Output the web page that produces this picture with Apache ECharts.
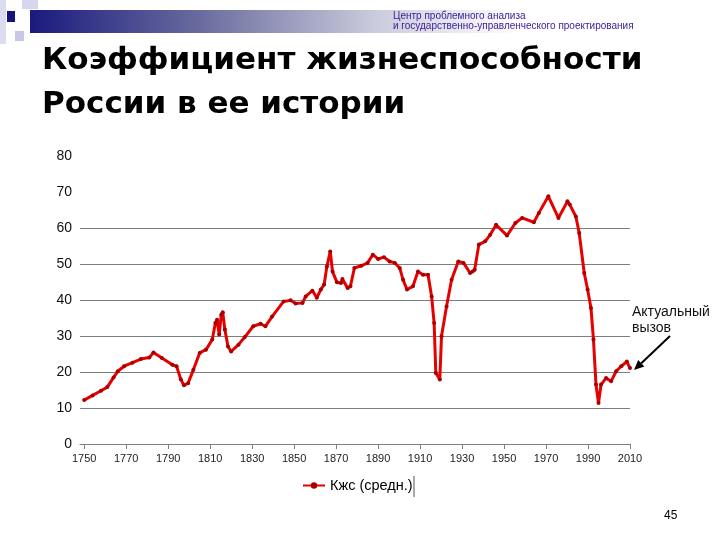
<!DOCTYPE html>
<html>
<head>
<meta charset="utf-8">
<script src="https://cdn.jsdelivr.net/npm/echarts@6/dist/echarts.min.js"></script>
<style>
html,body{margin:0;padding:0;background:#fff;}
#c{width:720px;height:540px;}
</style>
</head>
<body>
<div id="c"></div>
<script>
const years = [1750,1754,1758,1761,1764,1766,1769,1773,1777,1781,1783,1787,1792,1794,1796,1797.5,1799.5,1802,1805,1808,1811,1812.5,1813.3,1814.3,1815.3,1816,1817,1818.5,1820,1823.5,1826.5,1830.5,1834,1836.3,1839.5,1845,1848.3,1850.7,1854,1855.5,1858.7,1860.8,1862.7,1864.3,1865.6,1867.2,1868.3,1870.4,1872.3,1873,1875.5,1876.8,1878.7,1882,1885,1887.5,1890,1892.8,1895.5,1898,1900.3,1901.9,1903.8,1906.6,1909,1911.4,1913.8,1915.5,1916.7,1917.5,1919.4,1920.2,1922.6,1925,1928.2,1930.7,1933.8,1935,1936,1938,1941,1943.4,1946.2,1951.4,1955.4,1958.6,1964.2,1966.6,1971.1,1975.9,1980.2,1981.3,1984.2,1985.8,1988.2,1989.8,1991.4,1992.6,1993.8,1995,1996.2,1998.6,2001,2003.4,2005.8,2008.5,2010];
const values = [12.2,13.5,14.8,15.8,18.5,20.2,21.6,22.6,23.6,24.0,25.4,23.9,22.0,21.6,18.0,16.3,16.9,20.6,25.3,26.2,29.0,33.6,34.5,30.4,35.9,36.6,31.8,27.1,25.7,27.6,29.7,32.7,33.4,32.7,35.4,39.6,39.9,39.0,39.2,41.0,42.6,40.6,42.9,44.3,49.3,53.5,47.9,44.9,44.7,45.8,43.3,43.8,48.9,49.5,50.3,52.6,51.4,51.9,50.7,50.3,48.9,45.6,42.9,43.8,47.9,47.0,47.0,41.0,33.6,19.7,17.9,29.9,38.2,45.6,50.7,50.3,47.5,47.9,48.4,55.4,56.3,58.1,60.9,57.9,61.4,62.8,61.6,64.2,68.8,62.8,67.4,66.5,63.2,58.6,47.5,42.9,37.8,29.0,16.5,11.4,16.5,18.3,17.4,20.2,21.6,22.9,21.1];
const xTickLabels = [1750,1770,1790,1810,1830,1850,1870,1890,1910,1930,1950,1970,1990,2010];
const seriesName = 'Кжс (средн.)';
const titleText = 'Коэффициент жизнеспособности\nРоссии в ее истории';
const headerLines = ['Центр проблемного анализа', 'и государственно-управленческого проектирования'];
const annotationText = 'Актуальный\nвызов';
const pageNumber = '45';

const chart = echarts.init(document.getElementById('c'), null, {renderer: 'canvas'});
const gridColors = ['#7f7f7f','#7f7f7f','#7f7f7f','#7f7f7f','#7f7f7f','#7f7f7f','#7f7f7f','rgba(0,0,0,0)','rgba(0,0,0,0)'];

const option = {
  backgroundColor: '#ffffff',
  animation: false,
  title: {
    text: titleText,
    left: 37, top: 34,
    textStyle: {fontFamily: 'DejaVu Sans', fontWeight: 'bold', fontSize: 31, color: '#000', lineHeight: 44}
  },
  legend: {
    bottom: 42, left: 297,
    itemWidth: 22, itemHeight: 8, itemGap: 10,
    textStyle: {fontFamily: 'Liberation Sans', fontSize: 14.5, color: '#000'},
    data: [seriesName]
  },
  grid: {left: 80, right: 90, top: 156, bottom: 96, containLabel: false},
  xAxis: {
    type: 'value', min: 1748, max: 2010,
    axisLine: {show: true, lineStyle: {color: '#808080', width: 1}},
    axisTick: {show: true, customValues: xTickLabels, length: 5, lineStyle: {color: '#808080'}},
    axisLabel: {customValues: xTickLabels, margin: 9, fontFamily: 'Liberation Sans', fontSize: 11, color: '#222',
      formatter: v => String(v)},
    splitLine: {show: false}
  },
  yAxis: {
    type: 'value', min: 0, max: 80, interval: 10,
    axisLine: {show: false},
    axisTick: {show: false},
    axisLabel: {margin: 8, fontFamily: 'Liberation Sans', fontSize: 14, color: '#111'},
    splitLine: {show: true, lineStyle: {color: gridColors, width: 1}}
  },
  series: [{
    name: seriesName,
    type: 'line',
    data: years.map((y, i) => [y, values[i]]),
    showSymbol: true, showAllSymbol: true,
    symbol: 'circle', symbolSize: 4,
    lineStyle: {color: '#e60000', width: 3},
    itemStyle: {color: '#a80000'},
    emphasis: {disabled: true},
    z: 3
  }],
  graphic: []
};
chart.setOption(option);

// decorative header
const g = [
  {type: 'rect', shape: {x: 0, y: 0, width: 6, height: 44}, style: {fill: '#dcdcf0'}},
  {type: 'rect', shape: {x: 22, y: 0, width: 16, height: 9}, style: {fill: '#d6d6ee'}},
  {type: 'rect', shape: {x: 15, y: 31, width: 9, height: 10}, style: {fill: '#c8c8e6'}},
  {type: 'rect', shape: {x: 30, y: 10, width: 490, height: 23},
    style: {fill: new echarts.graphic.LinearGradient(0, 0, 1, 0, [
      {offset: 0, color: '#1a1a7e'}, {offset: 0.35, color: '#6a6c9e'}, {offset: 0.7, color: '#c9cadb'}, {offset: 1, color: '#ffffff'}])}},
  {type: 'rect', shape: {x: 7, y: 11, width: 8, height: 11}, style: {fill: '#14147a'}},
  {type: 'text', x: 393, y: 11, style: {text: headerLines[0], fontFamily: 'Liberation Sans', fontSize: 10, fill: '#3a1a96'}},
  {type: 'text', x: 393, y: 21, style: {text: headerLines[1], fontFamily: 'Liberation Sans', fontSize: 10, fill: '#3a1a96'}},
  {type: 'text', x: 664, y: 510, style: {text: pageNumber, fontFamily: 'Liberation Sans', fontSize: 12, fill: '#000'}},
  {type: 'line', shape: {x1: 414, y1: 476, x2: 414, y2: 497}, style: {stroke: '#555', lineWidth: 1}}
];

// annotation anchored at the last data point
const last = chart.convertToPixel({gridIndex: 0}, [years[years.length - 1], values[values.length - 1]]);
const hx = last[0] + 4, hy = last[1] + 2;
const tx = last[0] + 40, ty = last[1] - 32;
const ang = Math.atan2(hy - ty, hx - tx);
const L = 10, W = 4.5;
const bx = hx - L * Math.cos(ang), by = hy - L * Math.sin(ang);
g.push({type: 'line', shape: {x1: tx, y1: ty, x2: bx, y2: by}, style: {stroke: '#000', lineWidth: 2}});
g.push({type: 'polygon', shape: {points: [[hx, hy], [bx + W * Math.sin(ang), by - W * Math.cos(ang)], [bx - W * Math.sin(ang), by + W * Math.cos(ang)]]}, style: {fill: '#000'}});
g.push({type: 'text', x: last[0] + 2, y: last[1] - 64, style: {text: annotationText, fontFamily: 'Liberation Sans', fontSize: 14, lineHeight: 16, fill: '#111'}});

chart.setOption({graphic: g});
</script>
</body>
</html>
